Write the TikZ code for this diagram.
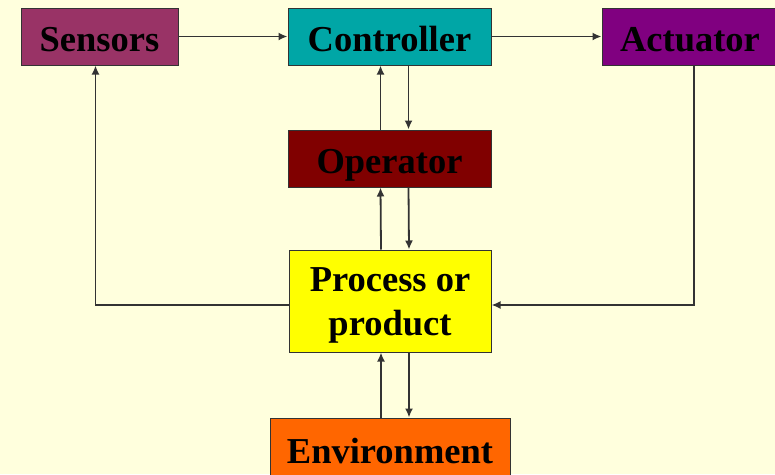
\documentclass[tikz,border=0pt]{standalone}
\usepackage{fontspec}
\setmainfont{Liberation Serif}
\usetikzlibrary{arrows.meta,positioning,calc}
\definecolor{paper}{HTML}{FFFFDD}
\definecolor{sensfill}{HTML}{993366}
\definecolor{ctrlfill}{HTML}{00A6A6}
\definecolor{actfill}{HTML}{800080}
\definecolor{operfill}{HTML}{800000}
\definecolor{procfill}{HTML}{FFFF00}
\definecolor{envfill}{HTML}{FF6600}
\tikzset{box/.style={draw=black!80,line width=1pt,align=center,minimum height=57pt,inner sep=0pt,text height=29pt,text depth=0pt,font=\bfseries\fontsize{36.5}{44}\selectfont},arrow/.style={-{Latex[length=9pt,width=8pt]},line width=1.8pt,draw=black!80}}

\begin{document}
\begin{tikzpicture}[x=1pt,y=-1pt]
\useasboundingbox[fill=paper] (0,0) rectangle (775,474);
\node[box,fill=sensfill,minimum width=157pt] (sens) at (99.5,36.5) {Sensors};
\node[box,fill=ctrlfill,minimum width=203pt] (ctrl) at (389.5,36.5) {Controller};
\node[box,fill=actfill,minimum width=176pt] (act) at (690,36.5) {Actuator};
\node[box,fill=operfill,minimum width=203pt] (oper) at (389.5,158.5) {Operator};
\node[box,fill=procfill,minimum width=202pt,minimum height=102pt,text height=68pt] (proc) at (390,301) {Process or\\product};
\node[box,fill=envfill,minimum width=240pt,minimum height=62pt] (env) at (390,449) {Environment};
\draw[arrow](sens)--(ctrl);
\draw[arrow](ctrl)--(act);
\foreach \a/\b in {ctrl/oper,oper/proc,proc/env}{\draw[arrow]([xshift=19pt]\a.south)--([xshift=19pt]\b.north);\draw[arrow]([xshift=-9pt]\b.north)--([xshift=-9pt]\a.south);}
\draw[arrow]([yshift=-4pt]proc.west)-|([xshift=-4pt]sens.south);
\draw[arrow]([xshift=4pt]act.south)|-([yshift=-4pt]proc.east);
\end{tikzpicture}
\end{document}
